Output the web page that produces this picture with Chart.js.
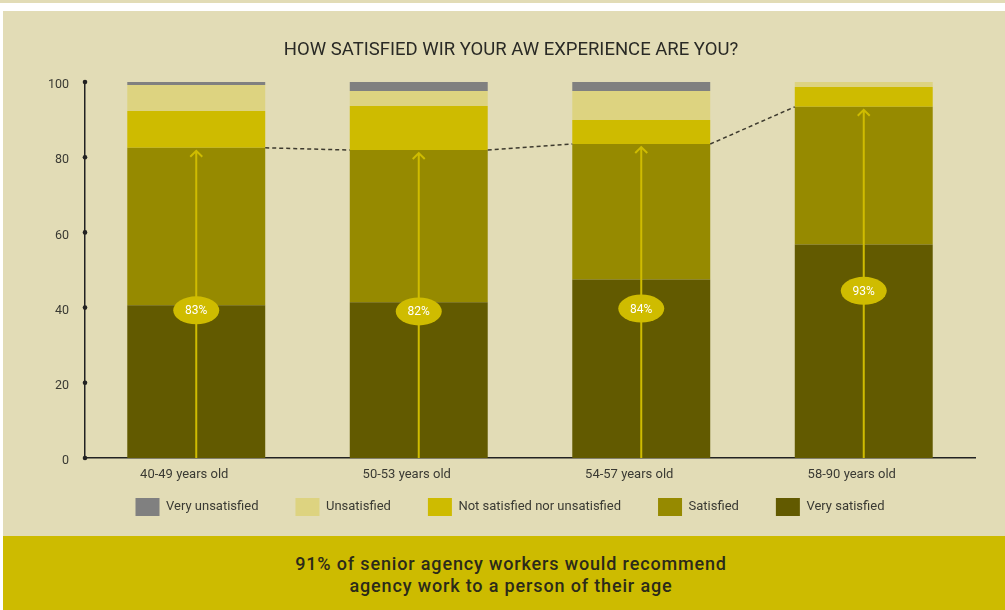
<!DOCTYPE html>
<html>
<head>
<meta charset="utf-8">
<script src="https://cdn.jsdelivr.net/npm/chart.js@4.4.1/dist/chart.umd.min.js"></script>
<style>
  body { margin: 0; background: #fff; width: 1005px; height: 610px; overflow: hidden; font-family: Roboto, sans-serif; }
  #strip { position: absolute; left: 0; top: 0; width: 1005px; height: 3px; background: #e2dcb6; }
  #panel { position: absolute; left: 3px; top: 11px; width: 1002px; height: 525px; background: #e2dcb6; }
  #banner { position: absolute; left: 3px; top: 536px; width: 1002px; height: 74px; background: #cdbb00;
            box-sizing: border-box; padding-top: 17px; padding-left: 14px; text-align: center; color: #2b2a1a;
            font-size: 18px; font-weight: 500; line-height: 22px; letter-spacing: 0.85px; }
</style>
</head>
<body>
<div id="strip"></div>
<div id="panel"><canvas id="satisfactionChart" width="1002" height="525"></canvas></div>
<div id="banner">91% of senior agency workers would recommend<br>agency work to a person of their age</div>
<script>
// Categories
const ageGroups = ["40-49 years old", "50-53 years old", "54-57 years old", "58-90 years old"];

// Shares per answer (percent), bottom to top of each stack
const verySatisfied = [40.6, 41.4, 47.5, 56.8];
const satisfied = [41.9, 40.5, 36.0, 36.6];
const neutral = [9.8, 11.7, 6.4, 5.3];
const unsatisfied = [6.9, 4.0, 7.7, 1.3];
const veryUnsatisfied = [0.8, 2.4, 2.4, 0];

// Labels on the arrows
const satisfiedShare = ["83%", "82%", "84%", "93%"];

const yTicks = [0, 20, 40, 60, 80, 100];

const textColor = "#3a3a33";
const arrowColor = "#cfbc00";

// Dashed connector, arrows and % badges
const overlayPlugin = {
  id: "overlay",
  afterLayout(chart) {
    // nudge legend row and title into place (legend padding also sets the item gaps)
    const lg = chart.legend;
    lg.top -= 27; lg.bottom = lg.top + 65;
    lg.left += 21; lg.right += 21;
    const tb = chart.titleBlock;
    tb.left += 22; tb.right += 22;
  },
  afterDatasetsDraw(chart) {
    const ctx = chart.ctx;
    const y = chart.scales.y;
    const bars = chart.getDatasetMeta(0).data;
    const tops = verySatisfied.map((v, i) => v + satisfied[i]);

    ctx.save();
    ctx.setLineDash([4, 3]);
    ctx.strokeStyle = "#3d3a2e";
    ctx.lineWidth = 1.5;
    for (let i = 0; i < bars.length - 1; i++) {
      ctx.beginPath();
      ctx.moveTo(bars[i].x + bars[i].width / 2, y.getPixelForValue(tops[i]));
      ctx.lineTo(bars[i + 1].x - bars[i + 1].width / 2, y.getPixelForValue(tops[i + 1]));
      ctx.stroke();
    }
    ctx.setLineDash([]);

    bars.forEach((bar, i) => {
      const base = y.getPixelForValue(0);
      const tip = y.getPixelForValue(tops[i]) + 3;
      ctx.strokeStyle = arrowColor;
      ctx.lineWidth = 2;
      ctx.beginPath();
      ctx.moveTo(bar.x, base);
      ctx.lineTo(bar.x, tip);
      ctx.moveTo(bar.x - 6, tip + 6);
      ctx.lineTo(bar.x, tip);
      ctx.lineTo(bar.x + 6, tip + 6);
      ctx.stroke();

      const cy = y.getPixelForValue(tops[i] * 0.476);
      ctx.fillStyle = arrowColor;
      ctx.beginPath();
      ctx.ellipse(bar.x, cy, 23, 14, 0, 0, Math.PI * 2);
      ctx.fill();
      ctx.fillStyle = "#ffffff";
      ctx.font = "12px Roboto, sans-serif";
      ctx.textAlign = "center";
      ctx.textBaseline = "middle";
      ctx.fillText(satisfiedShare[i], bar.x, cy + 1);
    });
    ctx.restore();
  },
  afterDraw(chart) {
    const ctx = chart.ctx;
    const y = chart.scales.y;
    ctx.save();
    ctx.fillStyle = "#222";
    yTicks.forEach(t => {
      ctx.beginPath();
      ctx.arc(chart.chartArea.left, y.getPixelForValue(t), 2.3, 0, Math.PI * 2);
      ctx.fill();
    });
    ctx.restore();
  }
};

const ctx = document.getElementById("satisfactionChart").getContext("2d");
const satisfactionChart = new Chart(ctx, {
  type: "bar",
  data: {
    labels: ageGroups,
    datasets: [
      { label: "Very satisfied", data: verySatisfied, backgroundColor: "#625a00" },
      { label: "Satisfied", data: satisfied, backgroundColor: "#968a00" },
      { label: "Not satisfied nor unsatisfied", data: neutral, backgroundColor: "#cebb00" },
      { label: "Unsatisfied", data: unsatisfied, backgroundColor: "#ddd380" },
      { label: "Very unsatisfied", data: veryUnsatisfied, backgroundColor: "#808080" },
    ],
  },
  options: {
    responsive: false,
    animation: false,
    events: [],
    barPercentage: 0.62,
    categoryPercentage: 1,
    layout: { padding: { left: 0, right: 30, top: 0, bottom: 10 } },
    plugins: {
      tooltip: { enabled: false },
      title: {
        display: true,
        text: "HOW SATISFIED WIR YOUR AW EXPERIENCE ARE YOU?",
        color: "#2a2a25",
        font: { family: "Roboto, sans-serif", size: 18.5, weight: "normal" },
        padding: { top: 28, bottom: 20.8 },
      },
      legend: {
        position: "bottom",
        reverse: true,
        maxHeight: 38,
        labels: {
          color: textColor,
          font: { family: "Roboto, sans-serif", size: 13 },
          boxWidth: 24,
          boxHeight: 18,
          padding: 37,
        },
      },
    },
    scales: {
      x: {
        stacked: true,
        grid: { display: false, drawTicks: false },
        border: { display: true, color: "#222", width: 1.5 },
        ticks: { color: textColor, font: { family: "Roboto, sans-serif", size: 13 }, padding: 9, labelOffset: -12 },
        afterFit(scale) { scale.height = 30; scale.paddingLeft = 0; scale.paddingRight = 0; },
      },
      y: {
        stacked: true,
        min: 0,
        max: 100,
        grid: { display: false, drawTicks: false },
        border: { display: true, color: "#222", width: 1.5 },
        ticks: { stepSize: 20, color: textColor, font: { family: "Roboto, sans-serif", size: 12.5 }, padding: 16, labelOffset: 3 },
        afterFit(scale) { scale.width = 82; scale.paddingTop = 0; scale.paddingBottom = 0; },
      },
    },
  },
  plugins: [overlayPlugin],
});
</script>
</body>
</html>
